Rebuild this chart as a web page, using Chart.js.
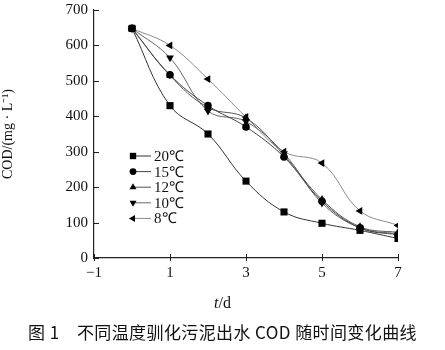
<!DOCTYPE html>
<html><head><meta charset="utf-8">
<script src="https://cdn.jsdelivr.net/npm/chart.js@4/dist/chart.umd.min.js"></script>
<style>
html,body{margin:0;padding:0;background:#fff;}
#wrap{position:relative;width:445px;height:350px;}
#xt{position:absolute;left:0;width:445px;text-align:center;top:294px;font-family:"Liberation Serif",serif;font-size:16px;color:#111;}
#cap{position:absolute;left:0;width:445px;text-align:center;top:319px;font-family:"Noto Sans CJK SC",sans-serif;font-size:17px;letter-spacing:0.4px;color:#111;white-space:pre;}
</style></head><body>
<div id="wrap"><canvas id="c" width="445" height="350"></canvas>
<div id="xt"><i>t</i>/d</div>
<div id="cap">图 1　不同温度驯化污泥出水 COD 随时间变化曲线</div>
</div>
<script>
const days = [0,1,2,3,4,5,6,7];
const seriesNames = ['20℃','15℃','12℃','10℃','8℃'];
const s20 = [648,430,350,217,130,98,78,55];
const s15 = [648,517,430,370,285,160,85,65];
const s12 = [648,515,425,395,290,165,88,72];
const s10 = [648,565,415,385,295,155,85,68];
const s8  = [648,600,505,398,300,268,133,92];
const xTicks = [-1,1,3,5,7];
const yTicks = [0,100,200,300,400,500,600,700];

const styles = [
  {pointStyle:'rect', rotation:0, color:'#333', r:5},
  {pointStyle:'circle', rotation:0, color:'#444', r:3.8},
  {pointStyle:'triangle', rotation:0, color:'#555', r:4.5},
  {pointStyle:'triangle', rotation:180, color:'#666', r:4.5},
  {pointStyle:'triangle', rotation:270, color:'#8a8a8a', r:4.5}
];
const values = [s20,s15,s12,s10,s8];
const datasets = values.map((v,i)=>({
  label: seriesNames[i],
  data: days.map((d,j)=>({x:d,y:v[j]})),
  borderColor: styles[i].color,
  borderWidth: 1,
  backgroundColor:'#000',
  pointBackgroundColor:'#000',
  pointBorderColor:'#000',
  pointBorderWidth:0,
  pointStyle: styles[i].pointStyle,
  rotation: styles[i].rotation,
  pointRadius: styles[i].r,
  tension:0.4,
  fill:false
}));

const serif = '"Liberation Serif", "Times New Roman", serif';

const inward = {
  id:'inward',
  afterDraw(chart){
    const ctx = chart.ctx, xs = chart.scales.x, ys = chart.scales.y;
    ctx.save();
    ctx.strokeStyle='#222'; ctx.lineWidth=1;
    xTicks.forEach(t=>{
      const px = Math.round(xs.getPixelForValue(t))+0.5;
      ctx.beginPath(); ctx.moveTo(px, ys.bottom-4); ctx.lineTo(px, ys.bottom+3); ctx.stroke();
    });
    yTicks.forEach(t=>{
      const py = Math.round(ys.getPixelForValue(t))+0.5;
      ctx.beginPath(); ctx.moveTo(xs.left, py); ctx.lineTo(xs.left+5, py); ctx.stroke();
    });
    // legend
    const lx = 133, ly0 = 156, dy = 15.6;
    ctx.font = '15px ' + serif;
    ctx.textBaseline='middle';
    chart.data.datasets.forEach((ds,i)=>{
      const y = ly0 + i*dy;
      ctx.strokeStyle = ds.borderColor;
      ctx.beginPath(); ctx.moveTo(lx, y); ctx.lineTo(lx+18, y); ctx.stroke();
      ctx.fillStyle='#000';
      Chart.helpers.drawPoint(ctx, {pointStyle: ds.pointStyle, rotation: ds.rotation, radius: ds.pointRadius*0.9, borderWidth:0}, lx, y);
      ctx.fillStyle='#111';
      ctx.fillText(ds.label, lx+21, y+1);
    });
    ctx.restore();
  }
};

new Chart(document.getElementById('c'), {
  type:'line',
  data:{datasets},
  options:{
    responsive:false,
    animation:false,
    layout:{padding:{left:0,right:47,top:10,bottom:70}},
    plugins:{legend:{display:false},tooltip:{enabled:false}},
    scales:{
      x:{
        type:'linear', min:-1, max:7,
        afterBuildTicks(s){ s.ticks = xTicks.map(v=>({value:v})); },
        afterFit(s){ s.height = 22; s.paddingLeft = 0; s.paddingRight = 0; },
        grid:{display:false, drawTicks:false},
        border:{display:true,color:'#222',width:1.2},
        ticks:{padding:6, color:'#111', font:{family:serif,size:15}, callback:v=>String(v).replace('-','−')}
      },
      y:{
        type:'linear', min:0, max:700,
        afterBuildTicks(s){ s.ticks = yTicks.map(v=>({value:v})); },
        afterFit(s){ s.width = 94; s.paddingTop = 0; s.paddingBottom = 0; },
        grid:{display:false, drawTicks:false},
        border:{display:true,color:'#222',width:1.2},
        ticks:{padding:6, color:'#111', font:{family:serif,size:15}},
        title:{display:true, text:'COD/(mg · L⁻¹)', color:'#111', font:{family:serif,size:14}, padding:{top:0,bottom:4}}
      }
    }
  },
  plugins:[inward]
});
</script>
</body></html>
